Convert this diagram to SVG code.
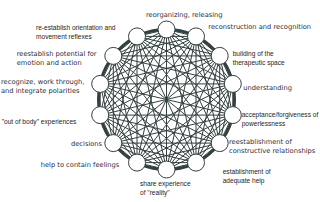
<svg xmlns="http://www.w3.org/2000/svg" width="320" height="202" viewBox="0 0 320 202">
<style>
.e{fill:none;stroke:#33403f;stroke-width:1;stroke-linejoin:round}
.ring{fill:none;stroke:#33403f;stroke-width:3}
.n{fill:#fff;stroke:#33403f;stroke-width:1}
.w{font-family:"DejaVu Sans",Verdana,sans-serif;font-size:6.7px;fill:#2e2e3a}
.t{font-family:"Liberation Sans",Arial,sans-serif;font-size:6.6px;fill:#1e1e1e}
</style>
<rect width="320" height="202" fill="#fff"/>
<g id="connectors">
<ellipse class="ring" cx="166.5" cy="99.5" rx="68" ry="70"/>
<polygon class="e" points="166.5,29.5 196,36.4 219.7,55.9 232.8,83.9 232.8,115.1 219.7,143.1 196,162.6 166.5,169.5 137,162.6 113.3,143.1 100.2,115.1 100.2,83.9 113.3,55.9 137,36.4"/>
<polygon class="e" points="166.5,29.5 219.7,55.9 232.8,115.1 196,162.6 137,162.6 100.2,115.1 113.3,55.9"/>
<polygon class="e" points="196,36.4 232.8,83.9 219.7,143.1 166.5,169.5 113.3,143.1 100.2,83.9 137,36.4"/>
<polygon class="e" points="166.5,29.5 232.8,83.9 196,162.6 113.3,143.1 113.3,55.9 196,36.4 232.8,115.1 166.5,169.5 100.2,115.1 137,36.4 219.7,55.9 219.7,143.1 137,162.6 100.2,83.9"/>
<polygon class="e" points="166.5,29.5 232.8,115.1 137,162.6 113.3,55.9 219.7,55.9 196,162.6 100.2,115.1"/>
<polygon class="e" points="196,36.4 219.7,143.1 113.3,143.1 137,36.4 232.8,83.9 166.5,169.5 100.2,83.9"/>
<polygon class="e" points="166.5,29.5 219.7,143.1 100.2,115.1 196,36.4 196,162.6 100.2,83.9 219.7,55.9 166.5,169.5 113.3,55.9 232.8,83.9 137,162.6 137,36.4 232.8,115.1 113.3,143.1"/>
<polygon class="e" points="166.5,29.5 196,162.6 113.3,55.9 232.8,115.1 100.2,115.1 219.7,55.9 137,162.6"/>
<polygon class="e" points="196,36.4 166.5,169.5 137,36.4 219.7,143.1 100.2,83.9 232.8,83.9 113.3,143.1"/>
<path class="e" d="M166.5,29.5L166.5,169.5M196,36.4L137,162.6M219.7,55.9L113.3,143.1M232.8,83.9L100.2,115.1M232.8,115.1L100.2,83.9M219.7,143.1L113.3,55.9M196,162.6L137,36.4"/>
</g>
<g id="n0"><circle class="n" cx="166.5" cy="29.5" r="8.5"/><text class="w" x="146" y="17">reorganizing, releasing</text></g>
<g id="n1"><circle class="n" cx="196" cy="36.4" r="8.5"/><text class="w" x="208.3" y="28.5">reconstruction and recognition</text></g>
<g id="n2"><circle class="n" cx="219.7" cy="55.9" r="8.5"/><text class="t" x="232.7" y="56.3">building of the</text><text class="t" x="232.7" y="65">therapeutic space</text></g>
<g id="n3"><circle class="n" cx="232.8" cy="83.9" r="8.5"/><text class="w" x="243.3" y="89.5">understanding</text></g>
<g id="n4"><circle class="n" cx="232.8" cy="115.1" r="8.5"/><text class="t" x="241.7" y="117.3">acceptance/forgiveness of</text><text class="t" x="241.7" y="126.3">powerlessness</text></g>
<g id="n5"><circle class="n" cx="219.7" cy="143.1" r="8.5"/><text class="w" x="229" y="144">reestablishment of</text><text class="w" x="229" y="152.5">constructive relationships</text></g>
<g id="n6"><circle class="n" cx="196" cy="162.6" r="8.5"/><text class="t" x="222.7" y="174">establishment of</text><text class="t" x="222.7" y="182.5">adequate help</text></g>
<g id="n7"><circle class="n" cx="166.5" cy="169.5" r="8.5"/><text class="t" x="140" y="185.6">share experience</text><text class="t" x="140" y="195.4">of "reality"</text></g>
<g id="n8"><circle class="n" cx="137" cy="162.6" r="8.5"/><text class="w" x="40.7" y="167.3">help to contain feelings</text></g>
<g id="n9"><circle class="n" cx="113.3" cy="143.1" r="8.5"/><text class="w" x="71" y="145.5">decisions</text></g>
<g id="n10"><circle class="n" cx="100.2" cy="115.1" r="8.5"/><text class="t" x="1.7" y="124">"out of body" experiences</text></g>
<g id="n11"><circle class="n" cx="100.2" cy="83.9" r="8.5"/><text class="w" x="1" y="84">recognize, work through,</text><text class="w" x="1" y="93">and integrate polarities</text></g>
<g id="n12"><circle class="n" cx="113.3" cy="55.9" r="8.5"/><text class="w" x="16.7" y="55.5">reestablish potential for</text><text class="w" x="16.7" y="64.5">emotion and action</text></g>
<g id="n13"><circle class="n" cx="137" cy="36.4" r="8.5"/><text class="t" x="36" y="30">re-establish orientation and</text><text class="t" x="36" y="39">movement reflexes</text></g>
</svg>
